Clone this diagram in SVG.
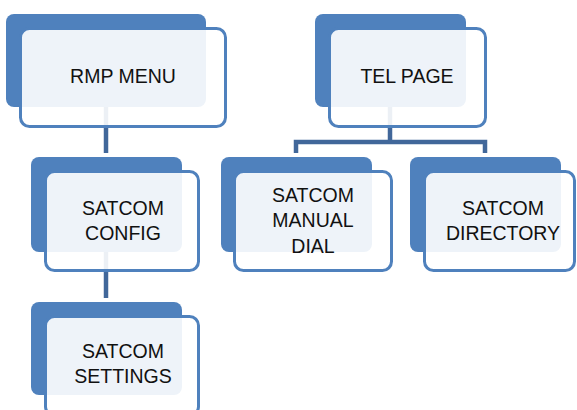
<svg xmlns="http://www.w3.org/2000/svg" width="577" height="410" viewBox="0 0 577 410">
<style>
.back{fill:#4F81BD}
.front{fill:#FFFFFF;fill-opacity:0.9;stroke:#4F81BD;stroke-width:3}
.conn{fill:none;stroke:#41679A;stroke-width:4.5}
text{font-family:"Liberation Sans",Arial,sans-serif;font-size:19.5px;fill:#111111;text-anchor:middle}
</style>
<rect width="577" height="410" fill="#FFFFFF"/>
<g id="connectors">
<path class="conn" d="M106 107 V153"/>
<path class="conn" d="M390 107 V142 M296 153 V142 H485 V153"/>
<path class="conn" d="M106 252 V298"/>
</g>
<g id="rmp-menu">
<rect class="back" x="6" y="14" width="200" height="93" rx="8"/>
<rect class="front" x="20.5" y="28.5" width="205" height="98" rx="9"/>
<text x="123" y="83">RMP MENU</text>
</g>
<g id="tel-page">
<rect class="back" x="315" y="14" width="151" height="93" rx="8"/>
<rect class="front" x="329.5" y="28.5" width="156" height="98" rx="9"/>
<text x="407" y="83">TEL PAGE</text>
</g>
<g id="satcom-manual-dial">
<rect class="back" x="221" y="157" width="151" height="95" rx="8"/>
<rect class="front" x="234.5" y="171.5" width="157" height="99" rx="9"/>
<text x="313" y="202">SATCOM</text>
<text x="313" y="227">MANUAL</text>
<text x="313" y="253">DIAL</text>
</g>
<g id="satcom-directory">
<rect class="back" x="410" y="157" width="151" height="95" rx="8"/>
<rect class="front" x="424.5" y="171.5" width="150" height="99" rx="9"/>
<text x="503" y="215">SATCOM</text>
<text x="503" y="240">DIRECTORY</text>
</g>
<g id="satcom-config">
<rect class="back" x="31" y="157" width="151" height="95" rx="8"/>
<rect class="front" x="45.5" y="171.5" width="153" height="99" rx="9"/>
<text x="123" y="215">SATCOM</text>
<text x="123" y="240">CONFIG</text>
</g>
<g id="satcom-settings">
<rect class="back" x="31" y="302" width="151" height="93" rx="8"/>
<rect class="front" x="45.5" y="316.5" width="153" height="99" rx="9"/>
<text x="123" y="358">SATCOM</text>
<text x="123" y="383">SETTINGS</text>
</g>
</svg>
